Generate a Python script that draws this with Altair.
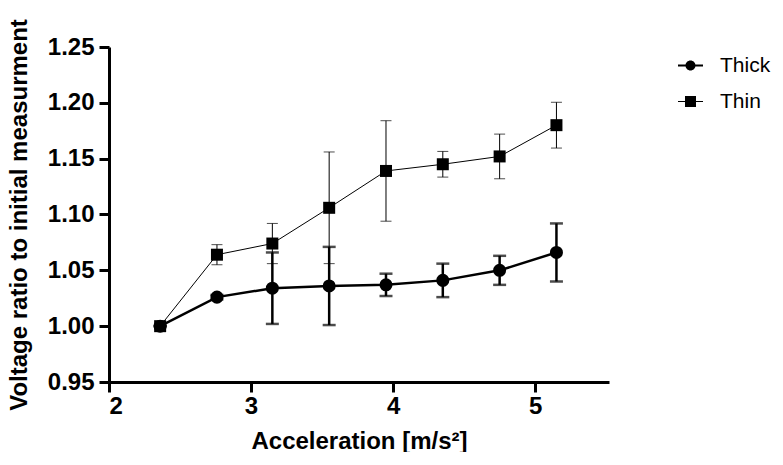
import altair as alt
import pandas as pd

accel = [2.36, 2.76, 3.15, 3.55, 3.95, 4.35, 4.75, 5.15]
thick = [1.000, 1.026, 1.034, 1.036, 1.037, 1.041, 1.050, 1.066]
thick_err = [0.0, 0.002, 0.032, 0.035, 0.010, 0.015, 0.013, 0.026]
thin = [1.000, 1.064, 1.074, 1.106, 1.139, 1.145, 1.152, 1.180]
thin_err = [0.0, 0.009, 0.018, 0.050, 0.045, 0.0115, 0.020, 0.0205]
series_names = ["Thick", "Thin"]
x_ticks = [2, 3, 4, 5]
y_ticks = [0.95, 1.00, 1.05, 1.10, 1.15, 1.20, 1.25]

FONT = "Liberation Sans"

df = pd.DataFrame({
    "accel": accel * 2,
    "ratio": thick + thin,
    "err": thick_err + thin_err,
    "series": [series_names[0]] * len(accel) + [series_names[1]] * len(accel),
})

xs = alt.Scale(domain=[2, 5.52], nice=False, zero=False)
ys = alt.Scale(domain=[0.95, 1.25], nice=False, zero=False)

X = alt.X("accel:Q", scale=xs, axis=alt.Axis(values=x_ticks, title="Acceleration [m/s²]", format="d"))
Y = alt.Y("ratio:Q", scale=ys, axis=alt.Axis(values=y_ticks, format=".2f", title="Voltage ratio to initial measurment"))

base = alt.Chart(df).transform_calculate(
    lo="datum.ratio - datum.err", hi="datum.ratio + datum.err"
)

def series_layers(name, lw, cap, shape, size):
    b = base.transform_filter(alt.datum.series == name)
    line = b.mark_line(color="black", strokeWidth=lw).encode(x=X, y=Y)
    rule = b.mark_rule(color="black", strokeWidth=lw).encode(
        x="accel:Q", y=alt.Y("lo:Q", scale=ys), y2="hi:Q")
    cap_lo = b.mark_tick(color="black", orient="horizontal", size=cap, thickness=lw).encode(
        x="accel:Q", y=alt.Y("lo:Q", scale=ys))
    cap_hi = b.mark_tick(color="black", orient="horizontal", size=cap, thickness=lw).encode(
        x="accel:Q", y=alt.Y("hi:Q", scale=ys))
    pts = b.mark_point(filled=True, color="black", opacity=1, shape=shape, size=size).encode(x=X, y=Y)
    return [rule, cap_lo, cap_hi, line, pts]

thick_sym = ("M-1,-0.08H-0.3V0.08H-1Z M0.3,-0.08H1V0.08H0.3Z "
             "M0.4,0A0.4,0.4 0 1,1 -0.4,0A0.4,0.4 0 1,1 0.4,0Z")
thin_sym = ("M-1,-0.04H-0.4V0.04H-1Z M0.4,-0.04H1V0.04H0.4Z "
            "M-0.44,-0.44H0.44V0.44H-0.44Z")

legend_layer = base.mark_point(filled=True, color="black", opacity=0).encode(
    x=X, y=Y,
    shape=alt.Shape("series:N", scale=alt.Scale(domain=series_names, range=[thick_sym, thin_sym]),
                    legend=alt.Legend(title=None, orient="none", legendX=569, legendY=6,
                                      symbolSize=625, symbolStrokeWidth=0, symbolFillColor="black",
                                      labelFont=FONT, labelFontSize=21, labelColor="black",
                                      labelOffset=17, rowPadding=13, padding=0)),
)

layers = series_layers("Thick", 2.5, 13, "circle", 170) + series_layers("Thin", 1, 11, "square", 144) + [legend_layer]

chart = alt.layer(*layers).properties(
    width=500, height=335,
    autosize=alt.AutoSizeParams(type="none"),
    padding={"left": 101, "top": 39, "right": 166, "bottom": 70},
).configure_view(stroke=None).configure_axis(
    grid=False, domainColor="black", domainWidth=3, tickColor="black", tickWidth=3, tickSize=10,
    labelFont=FONT, labelFontSize=24, labelFontWeight="bold", labelColor="black",
    titleFont=FONT, titleFontSize=24, titleFontWeight="bold", titleColor="black",
).configure_axisX(labelPadding=2, titlePadding=11).configure_axisY(labelPadding=5, titlePadding=16)

chart.save("out.html", embed_options={"renderer": "svg", "actions": False})
